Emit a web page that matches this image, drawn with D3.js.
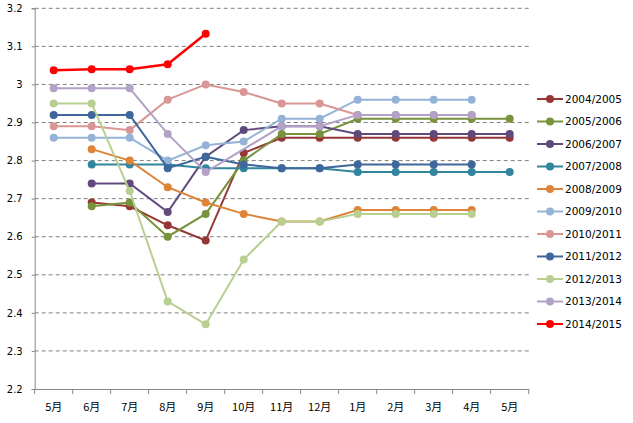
<!DOCTYPE html>
<html>
<head>
<meta charset="utf-8">
<script src="https://cdn.jsdelivr.net/npm/d3@7"></script>
<style>
  body { margin: 0; background: #fff; }
  svg { display: block; }
  .tick text { font-family: "DejaVu Sans", Tahoma, sans-serif; }
</style>
</head>
<body>
<svg id="chart" width="633" height="423"></svg>
<script>
// months on the x axis (season runs May -> May)
var months = ['5月', '6月', '7月', '8月', '9月', '10月', '11月', '12月', '1月', '2月', '3月', '4月', '5月'];
var yTicks = [2.2, 2.3, 2.4, 2.5, 2.6, 2.7, 2.8, 2.9, 3, 3.1, 3.2];

var seasons = ['2004/2005', '2005/2006', '2006/2007', '2007/2008', '2008/2009', '2009/2010',
  '2010/2011', '2011/2012', '2012/2013', '2013/2014', '2014/2015'];
var colors = ['#953735', '#77933c', '#604a7b', '#31859c', '#dd8439', '#95b3d7',
  '#d99694', '#3e679c', '#b8cf92', '#b3a2c7', '#ff0000'];

var s2004 = [null, 2.69, 2.68, 2.63, 2.59, 2.82, 2.86, 2.86, 2.86, 2.86, 2.86, 2.86, 2.86];
var s2005 = [null, 2.68, 2.69, 2.60, 2.66, 2.80, 2.87, 2.87, 2.91, 2.91, 2.91, 2.91, 2.91];
var s2006 = [null, 2.74, 2.74, 2.665, 2.81, 2.88, 2.89, 2.89, 2.87, 2.87, 2.87, 2.87, 2.87];
var s2007 = [null, 2.79, 2.79, 2.79, 2.78, 2.78, 2.78, 2.78, 2.77, 2.77, 2.77, 2.77, 2.77];
var s2008 = [null, 2.83, 2.80, 2.73, 2.69, 2.66, 2.64, 2.64, 2.67, 2.67, 2.67, 2.67, null];
var s2009 = [2.86, 2.86, 2.86, 2.80, 2.84, 2.85, 2.91, 2.91, 2.96, 2.96, 2.96, 2.96, null];
var s2010 = [2.89, 2.89, 2.88, 2.96, 3.00, 2.98, 2.95, 2.95, 2.92, 2.92, 2.92, 2.92, null];
var s2011 = [2.92, 2.92, 2.92, 2.78, 2.81, 2.79, 2.78, 2.78, 2.79, 2.79, 2.79, 2.79, null];
var s2012 = [2.95, 2.95, 2.72, 2.43, 2.37, 2.54, 2.64, 2.64, 2.66, 2.66, 2.66, 2.66, null];
// no October value for 2013/2014, the line just bridges the gap
var s2013 = [2.99, 2.99, 2.99, 2.87, 2.77, null, 2.89, 2.89, 2.92, 2.92, 2.92, 2.92, null];
var s2014 = [3.037, 3.04, 3.04, 3.053, 3.133, null, null, null, null, null, null, null, null];

var seriesValues = [s2004, s2005, s2006, s2007, s2008, s2009, s2010, s2011, s2012, s2013, s2014];

// SETUP
var svg = d3.select('#chart');
var margin = { left: 34.7, right: 104.3, top: 8.3, bottom: 34 };
var width = 633 - margin.left - margin.right;
var height = 423 - margin.top - margin.bottom;

var g = svg.append('g')
  .attr('transform', 'translate(' + margin.left + ',' + margin.top + ')');

var x = d3.scaleBand()
  .domain(d3.range(months.length))
  .range([0, width])
  .padding(0);

var y = d3.scaleLinear()
  .domain([2.2, 3.2])
  .range([height, 0]);

// dashed gridlines
g.append('g')
  .selectAll('line')
  .data(yTicks.filter(function (t) { return t > 2.2; }))
  .enter()
  .append('line')
  .attr('x1', 0)
  .attr('x2', width)
  .attr('y1', function (d) { return y(d); })
  .attr('y2', function (d) { return y(d); })
  .attr('stroke', '#808080')
  .attr('stroke-width', 1)
  .attr('stroke-dasharray', '4,3');

// y axis
var yAxis = g.append('g')
  .call(d3.axisLeft(y).tickValues(yTicks).tickSize(3).tickPadding(9)
    .tickFormat(function (d) { return d3.format('')(+d.toFixed(1)); }));
yAxis.select('.domain').attr('stroke', '#868686');
yAxis.selectAll('.tick line').attr('stroke', '#868686');
yAxis.selectAll('.tick text')
  .attr('fill', '#000')
  .style('font-size', '10px');

// x axis: labels at band centres, tick marks on band edges
var xAxis = g.append('g')
  .attr('transform', 'translate(0,' + height + ')')
  .call(d3.axisBottom(x).tickSize(0).tickPadding(14)
    .tickFormat(function (i) { return months[i]; }));
xAxis.select('.domain').attr('stroke', '#868686');
xAxis.selectAll('.tick text')
  .attr('fill', '#000')
  .style('font-family', '"Noto Sans CJK SC", "DejaVu Sans", sans-serif')
  .style('font-size', '11px');

xAxis.selectAll('line.edge')
  .data(d3.range(months.length + 1))
  .enter()
  .append('line')
  .attr('class', 'edge')
  .attr('x1', function (i) { return i * x.bandwidth(); })
  .attr('x2', function (i) { return i * x.bandwidth(); })
  .attr('y1', 0)
  .attr('y2', 5)
  .attr('stroke', '#868686');

// turn a series into its drawable points (skipping empty months)
function toPoints(values, i) {
  return values.map(function (v, j) { return { v: v, j: j, c: colors[i] }; })
    .filter(function (p) { return p.v != null; });
}

var line = d3.line()
  .x(function (p) { return x(p.j) + x.bandwidth() / 2; })
  .y(function (p) { return y(p.v); });

var seriesG = g.selectAll('g.series')
  .data(seriesValues)
  .enter()
  .append('g')
  .attr('class', 'series');

seriesG.append('path')
  .attr('d', function (d, i) { return line(toPoints(d, i)); })
  .attr('fill', 'none')
  .attr('stroke', function (d, i) { return colors[i]; })
  .attr('stroke-width', function (d, i) { return i === 10 ? 2.5 : 2; });

seriesG.selectAll('circle')
  .data(toPoints)
  .enter()
  .append('circle')
  .attr('cx', function (p) { return x(p.j) + x.bandwidth() / 2; })
  .attr('cy', function (p) { return y(p.v); })
  .attr('r', 4)
  .attr('fill', function (p) { return p.c; });

// legend
var legend = svg.append('g')
  .attr('transform', 'translate(537,99)');

var item = legend.selectAll('g.item')
  .data(seasons)
  .enter()
  .append('g')
  .attr('class', 'item')
  .attr('transform', function (d, i) { return 'translate(0,' + (i * 22.5) + ')'; });

item.append('line')
  .attr('x1', 0)
  .attr('x2', 26)
  .attr('stroke', function (d, i) { return colors[i]; })
  .attr('stroke-width', 2);
item.append('circle')
  .attr('cx', 13)
  .attr('r', 4)
  .attr('fill', function (d, i) { return colors[i]; });
item.append('text')
  .attr('x', 28)
  .attr('dy', '0.35em')
  .style('font-family', '"DejaVu Sans", Tahoma, sans-serif')
  .style('font-size', '10.5px')
  .attr('fill', '#000')
  .text(function (d) { return d; });
</script>
</body>
</html>
